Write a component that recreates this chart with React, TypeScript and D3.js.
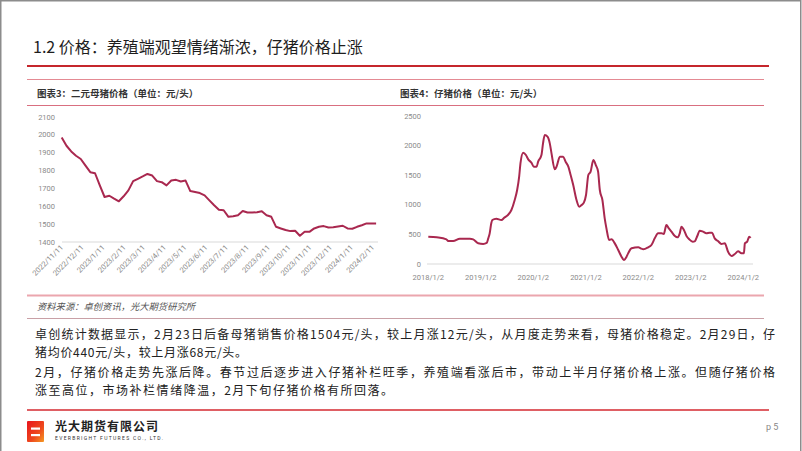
import React from "react";
import * as d3 from "d3";

// ---------- Data ----------
// Chart 3: 二元母猪价格 (weekly, starting 2022/11/11)
const sowStart = "2022-11-11";
const sowValues = [
  1985, 1939, 1907, 1883, 1865, 1828, 1791, 1785, 1717, 1652, 1659, 1643, 1628, 1656,
  1689, 1741, 1754, 1767, 1781, 1772, 1741, 1735, 1717, 1744, 1748, 1739, 1744, 1685,
  1680, 1674, 1661, 1633, 1606, 1581, 1578, 1541, 1544, 1550, 1574, 1565, 1565, 1567,
  1572, 1550, 1541, 1485, 1476, 1467, 1461, 1463, 1435, 1457, 1457, 1476, 1485, 1489,
  1481, 1483, 1487, 1491, 1476, 1474, 1485, 1494, 1504, 1504, 1504,
];
const sowXTicks = [
  "2022/11/11", "2022/12/11", "2023/1/11", "2023/2/11", "2023/3/11", "2023/4/11",
  "2023/5/11", "2023/6/11", "2023/7/11", "2023/8/11", "2023/9/11", "2023/10/11",
  "2023/11/11", "2023/12/11", "2024/1/11", "2024/2/11",
];
const sowYTicks = [1400, 1500, 1600, 1700, 1800, 1900, 2000, 2100];

// Chart 4: 仔猪价格
const pigletDates = [
  "2018-01-02", "2018-03-01", "2018-05-08", "2018-05-20", "2018-06-24", "2018-08-09",
  "2018-10-18", "2018-11-10", "2018-12-15", "2019-01-19", "2019-02-12", "2019-02-23",
  "2019-03-05", "2019-03-16", "2019-03-23", "2019-04-20", "2019-05-25", "2019-06-17",
  "2019-07-10", "2019-08-03", "2019-08-26", "2019-09-12", "2019-09-26", "2019-10-05",
  "2019-10-24", "2019-11-12", "2019-11-28", "2019-12-20", "2020-01-06", "2020-01-25",
  "2020-02-05", "2020-02-28", "2020-03-10", "2020-03-22", "2020-04-10", "2020-04-26",
  "2020-05-08", "2020-05-31", "2020-06-12", "2020-07-05", "2020-07-28", "2020-08-14",
  "2020-09-02", "2020-09-18", "2020-10-06", "2020-10-29", "2020-11-17", "2020-12-03",
  "2020-12-19", "2021-01-03", "2021-01-19", "2021-02-04", "2021-02-23", "2021-03-12",
  "2021-03-28", "2021-04-09", "2021-04-27", "2021-05-13", "2021-05-25", "2021-06-13",
  "2021-06-29", "2021-07-22", "2021-08-15", "2021-09-07", "2021-09-23", "2021-10-12",
  "2021-10-23", "2021-11-16", "2022-01-02", "2022-01-18", "2022-02-06", "2022-03-11",
  "2022-04-03", "2022-04-26", "2022-05-19", "2022-06-12", "2022-06-28", "2022-07-16",
  "2022-08-02", "2022-08-20", "2022-09-13", "2022-10-01", "2022-10-17", "2022-10-29",
  "2022-11-15", "2022-12-03", "2022-12-22", "2023-01-15", "2023-01-31", "2023-02-16",
  "2023-03-05", "2023-03-28", "2023-04-20", "2023-05-13", "2023-05-29", "2023-06-17",
  "2023-07-10", "2023-08-03", "2023-08-26", "2023-09-18", "2023-10-12", "2023-11-04",
  "2023-11-27", "2023-12-20", "2024-01-06", "2024-01-13", "2024-01-29", "2024-02-12",
  "2024-02-22",
];
const pigletValues = [
  462, 450, 417, 388, 388, 428,
  428, 417, 349, 338, 355, 433,
  518, 687, 743, 766, 743, 788,
  828, 912, 1081, 1250, 1475, 1700,
  1880, 1841, 1768, 1712, 1644, 1644,
  1728, 1841, 2038, 2179, 2151, 2038,
  1869, 1599, 1644, 1813, 1813, 1728,
  1644, 1503, 1334, 1081, 968, 996,
  1036, 1165, 1503, 1560, 1756, 1672,
  1560, 1250, 1081, 771, 602, 405,
  417, 349, 236, 124, 68, 124,
  180, 265, 282, 265, 248, 282,
  321, 433, 518, 518, 507, 659,
  602, 546, 473, 450, 518, 631,
  574, 473, 417, 377, 388, 473,
  563, 546, 518, 529, 529, 433,
  388, 338, 349, 208, 135, 169,
  214, 180, 180, 349, 377, 462,
  440,
];
const pigletXTicks = ["2018/1/2", "2019/1/2", "2020/1/2", "2021/1/2", "2022/1/2", "2023/1/2", "2024/1/2"];
const pigletYTicks = [0, 500, 1000, 1500, 2000, 2500];

// Text
const titleText = "1.2 价格：养殖端观望情绪渐浓，仔猪价格止涨";
const chart3Title = "图表3：二元母猪价格（单位：元/头）";
const chart4Title = "图表4：仔猪价格（单位：元/头）";
const sourceText = "资料来源：卓创资讯，光大期货研究所";
const bodyLines = [
  "卓创统计数据显示，2月23日后备母猪销售价格1504元/头，较上月涨12元/头，从月度走势来看，母猪价格稳定。2月29日，仔",
  "猪均价440元/头，较上月涨68元/头。",
  "2月，仔猪价格走势先涨后降。春节过后逐步进入仔猪补栏旺季，养殖端看涨后市，带动上半月仔猪价格上涨。但随仔猪价格",
  "涨至高位，市场补栏情绪降温，2月下旬仔猪价格有所回落。",
];

// ---------- Helpers ----------
const parseSlash = (s: string) => {
  const [y, m, d] = s.split("/").map(Number);
  return new Date(y, m - 1, d);
};
const parseDash = d3.timeParse("%Y-%m-%d");

const LINE_COLOR = "#a9284f";
const AXIS_TEXT = "#8a8a8a";
const CJK = "'Noto Sans CJK SC', 'Noto Sans', sans-serif";
const LAT = "Roboto, 'Liberation Sans', 'Noto Sans', sans-serif";

export default function App() {
  // Chart 3 scales
  const sowStartDate = parseDash(sowStart) as Date;
  const sowData = sowValues.map((v, i) => ({ date: d3.timeDay.offset(sowStartDate, i * 7), v }));
  const x1 = d3.scaleTime().domain([parseSlash(sowXTicks[0]), parseSlash(sowXTicks[sowXTicks.length - 1])]).range([61.7, 372.7]);
  const y1 = d3.scaleLinear().domain([1400, 2100]).range([242, 117]);
  const line1 = d3.line<{ date: Date; v: number }>().x((d) => x1(d.date)).y((d) => y1(d.v));

  // Chart 4 scales
  const pigData = pigletValues.map((v, i) => ({ date: parseDash(pigletDates[i]) as Date, v }));
  const x2 = d3.scaleTime().domain([parseSlash(pigletXTicks[0]), parseSlash(pigletXTicks[pigletXTicks.length - 1])]).range([428.3, 743.3]);
  const y2 = d3.scaleLinear().domain([0, 2500]).range([264, 116]);
  const line2 = d3
    .line<{ date: Date; v: number }>()
    .x((d) => x2(d.date))
    .y((d) => y2(d.v))
    .curve(d3.curveMonotoneX);

  const bodyY = [339, 356.5, 377, 394.5];
  const bodyLen = [740, 212, 740, 358];

  return (
    <svg
      width={802}
      height={451}
      style={{ position: "absolute", left: 0, top: 0, background: "#fff" }}
      xmlns="http://www.w3.org/2000/svg"
    >
      <defs>
        <linearGradient id="logoGrad" x1="0" y1="0" x2="1" y2="1">
          <stop offset="0" stopColor="#e8141c" />
          <stop offset="0.6" stopColor="#ee4a1e" />
          <stop offset="1" stopColor="#f59a23" />
        </linearGradient>
      </defs>
      <rect x={0} y={0} width={802} height={451} fill="#fff" />
      {/* page border */}
      <rect x={0.75} y={0.75} width={800} height={470} fill="none" stroke="#8c8c8c" strokeWidth={1.5} />

      {/* Title */}
      <text x={33} y={53} fontFamily={CJK} fontSize={16} fill="#1e1e1e">
        {titleText}
      </text>
      <line x1={27} x2={769} y1={66} y2={66} stroke="#c5262c" strokeWidth={2} />

      {/* chart header band */}
      <line x1={27} x2={764} y1={79.5} y2={79.5} stroke="#e48a93" strokeWidth={1} />
      <text x={37} y={97} fontFamily={CJK} fontSize={9.5} fontWeight="bold" fill="#333">
        {chart3Title}
      </text>
      <text x={400} y={97} fontFamily={CJK} fontSize={9.5} fontWeight="bold" fill="#333">
        {chart4Title}
      </text>
      <line x1={27} x2={764} y1={105.5} y2={105.5} stroke="#d96f80" strokeWidth={1} />

      {/* Chart 3 */}
      <g>
        <line x1={62} x2={378} y1={242} y2={242} stroke="#d9d9d9" strokeWidth={1} />
        {sowYTicks.map((t) => (
          <text key={t} x={55} y={y1(t) + 2.5} textAnchor="end" fontFamily={LAT} fontSize={7.5} fill={AXIS_TEXT}>
            {t}
          </text>
        ))}
        {sowXTicks.map((t) => {
          const xx = x1(parseSlash(t));
          return (
            <text
              key={t}
              transform={`translate(${xx + 2},${248}) rotate(-45)`}
              textAnchor="end"
              fontFamily={LAT}
              fontSize={7.5}
              fill={AXIS_TEXT}
            >
              {t}
            </text>
          );
        })}
        <path d={line1(sowData) || ""} fill="none" stroke={LINE_COLOR} strokeWidth={2} strokeLinejoin="round" />
      </g>

      {/* Chart 4 */}
      <g>
        <line x1={427} x2={753} y1={264} y2={264} stroke="#d9d9d9" strokeWidth={1} />
        {pigletYTicks.map((t) => (
          <text key={t} x={421} y={y2(t) + 2.5} textAnchor="end" fontFamily={LAT} fontSize={7.5} fill={AXIS_TEXT}>
            {t}
          </text>
        ))}
        {pigletXTicks.map((t) => (
          <text key={t} x={x2(parseSlash(t))} y={280} textAnchor="middle" fontFamily={LAT} fontSize={7.5} fill={AXIS_TEXT}>
            {t}
          </text>
        ))}
        <path d={line2(pigData) || ""} fill="none" stroke={LINE_COLOR} strokeWidth={2} strokeLinejoin="round" />
      </g>

      {/* source */}
      <line x1={27} x2={764} y1={295.5} y2={295.5} stroke="#eba6ae" strokeWidth={2} />
      <text x={37} y={310} fontFamily={CJK} fontSize={9.3} fontStyle="italic" fill="#555">
        {sourceText}
      </text>
      <line x1={27} x2={764} y1={318.5} y2={318.5} stroke="#c9a0a6" strokeWidth={1} />

      {/* body */}
      {bodyLines.map((l, i) => (
        <text
          key={i}
          x={35}
          y={bodyY[i]}
          fontFamily={CJK}
          fontSize={12}
          fill="#222"
          textLength={bodyLen[i]}
          lengthAdjust="spacing"
        >
          {l}
        </text>
      ))}

      {/* footer */}
      <line x1={27} x2={769} y1={410} y2={410} stroke="#d42a31" strokeWidth={1.5} />
      <rect x={27} y={421} width={17} height={21} fill="url(#logoGrad)" rx={1} />
      <rect x={31} y={427.5} width={9} height={2.2} fill="#fff" />
      <rect x={31} y={434} width={9} height={2.2} fill="#fff" />
      <text x={55} y={431} fontFamily={CJK} fontSize={12} fontWeight="bold" fill="#222" letterSpacing={1}>
        光大期货有限公司
      </text>
      <text x={55} y={439.5} fontFamily={LAT} fontSize={5} fill="#333" textLength={108} lengthAdjust="spacing">
        EVERBRIGHT FUTURES CO., LTD.
      </text>
      <text x={766} y={430} fontFamily={LAT} fontSize={9} fill="#888">
        p 5
      </text>
    </svg>
  );
}
